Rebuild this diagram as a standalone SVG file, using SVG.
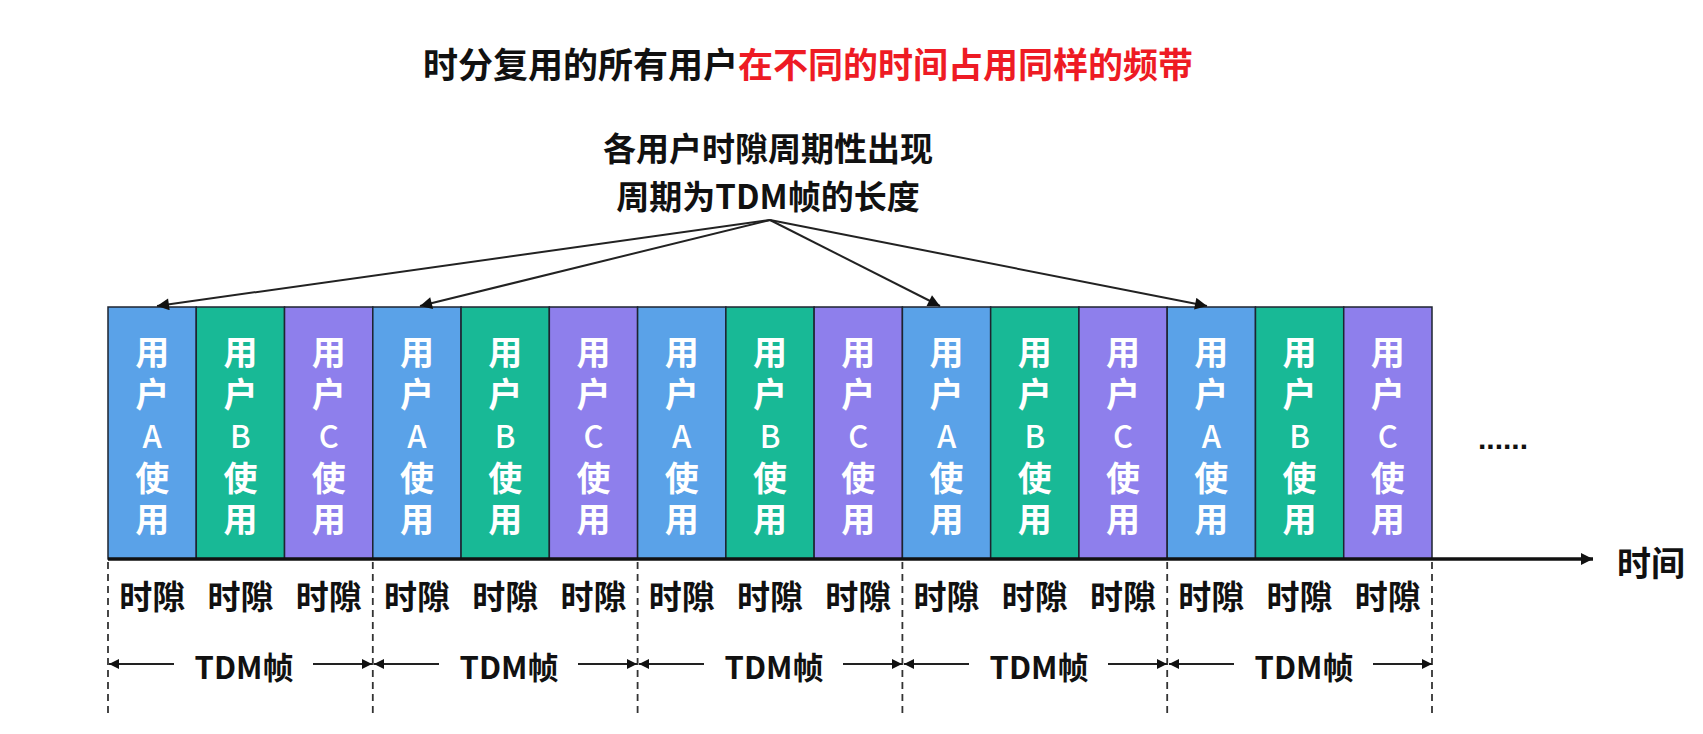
<svg xmlns="http://www.w3.org/2000/svg" width="1703" height="734" viewBox="0 0 1703 734">
<style>
.t{font-family:"Liberation Sans","Noto Sans CJK SC",sans-serif;font-weight:bold;fill:#111;}
.cjk{font-family:"Noto Sans CJK SC",sans-serif;font-weight:bold;}
.bt{font-family:"Noto Sans CJK SC",sans-serif;font-weight:bold;fill:#fff;font-size:34px;text-anchor:middle;dominant-baseline:central;}
.bl{font-family:"Noto Sans CJK SC",sans-serif;font-weight:500;fill:#fff;font-size:31px;text-anchor:middle;dominant-baseline:central;}
.slot{font-family:"Noto Sans CJK SC",sans-serif;font-weight:bold;fill:#111;font-size:33px;text-anchor:middle;dominant-baseline:central;}
.tdm{font-family:"Noto Sans CJK SC",sans-serif;font-weight:bold;fill:#111;font-size:31px;text-anchor:middle;dominant-baseline:central;}
.A{fill:#5AA2E8;stroke:#1e2430;stroke-width:1.5;}
.B{fill:#18B996;stroke:#1e2430;stroke-width:1.5;}
.C{fill:#8E7FEC;stroke:#1e2430;stroke-width:1.5;}
.ln{stroke:#222;stroke-width:2;fill:none;}
.dash{stroke:#333;stroke-width:1.8;stroke-dasharray:7 5;fill:none;}
</style>
<defs>
<marker id="ah" viewBox="0 0 10 10" refX="10" refY="5" markerWidth="14" markerHeight="12" markerUnits="userSpaceOnUse" orient="auto">
<path d="M0,0 L10,5 L0,10 Z" fill="#111"/>
</marker>
<marker id="ah2" viewBox="0 0 10 10" refX="10" refY="5" markerWidth="12" markerHeight="10" markerUnits="userSpaceOnUse" orient="auto">
<path d="M0,0 L10,5 L0,10 Z" fill="#111"/>
</marker>
<marker id="ah3" viewBox="0 0 10 10" refX="10" refY="5" markerWidth="16" markerHeight="12" markerUnits="userSpaceOnUse" orient="auto">
<path d="M0,0 L10,5 L0,10 Z" fill="#111"/>
</marker>
<g id="colA"><text class="bt" y="350">用</text><text class="bt" y="392">户</text><text class="bl" y="434">A</text><text class="bt" y="476">使</text><text class="bt" y="517">用</text></g>
<g id="colB"><text class="bt" y="350">用</text><text class="bt" y="392">户</text><text class="bl" y="434">B</text><text class="bt" y="476">使</text><text class="bt" y="517">用</text></g>
<g id="colC"><text class="bt" y="350">用</text><text class="bt" y="392">户</text><text class="bl" y="434">C</text><text class="bt" y="476">使</text><text class="bt" y="517">用</text></g>
</defs>
<rect width="1703" height="734" fill="#fff"/>

<g id="title">
<text x="808" y="62" font-size="35" text-anchor="middle" dominant-baseline="central" class="cjk"><tspan fill="#111">时分复用的所有用户</tspan><tspan fill="#EE1B24">在不同的时间占用同样的频带</tspan></text>
</g>

<g id="note">
<text x="768" y="147" font-size="33" text-anchor="middle" dominant-baseline="central" class="cjk" fill="#111">各用户时隙周期性出现</text>
<text x="768" y="195" font-size="33" text-anchor="middle" dominant-baseline="central" class="cjk" fill="#111">周期为TDM帧的长度</text>
</g>

<g id="slot0"><rect class="A" x="108" y="307" width="88.27" height="252"/><use href="#colA" x="152.13"/></g>
<g id="slot1"><rect class="B" x="196.27" y="307" width="88.27" height="252"/><use href="#colB" x="240.4"/></g>
<g id="slot2"><rect class="C" x="284.53" y="307" width="88.27" height="252"/><use href="#colC" x="328.67"/></g>
<g id="slot3"><rect class="A" x="372.8" y="307" width="88.27" height="252"/><use href="#colA" x="416.93"/></g>
<g id="slot4"><rect class="B" x="461.07" y="307" width="88.27" height="252"/><use href="#colB" x="505.2"/></g>
<g id="slot5"><rect class="C" x="549.33" y="307" width="88.27" height="252"/><use href="#colC" x="593.47"/></g>
<g id="slot6"><rect class="A" x="637.6" y="307" width="88.27" height="252"/><use href="#colA" x="681.73"/></g>
<g id="slot7"><rect class="B" x="725.87" y="307" width="88.27" height="252"/><use href="#colB" x="770"/></g>
<g id="slot8"><rect class="C" x="814.13" y="307" width="88.27" height="252"/><use href="#colC" x="858.27"/></g>
<g id="slot9"><rect class="A" x="902.4" y="307" width="88.27" height="252"/><use href="#colA" x="946.53"/></g>
<g id="slot10"><rect class="B" x="990.67" y="307" width="88.27" height="252"/><use href="#colB" x="1034.8"/></g>
<g id="slot11"><rect class="C" x="1078.93" y="307" width="88.27" height="252"/><use href="#colC" x="1123.07"/></g>
<g id="slot12"><rect class="A" x="1167.2" y="307" width="88.27" height="252"/><use href="#colA" x="1211.33"/></g>
<g id="slot13"><rect class="B" x="1255.47" y="307" width="88.27" height="252"/><use href="#colB" x="1299.6"/></g>
<g id="slot14"><rect class="C" x="1343.73" y="307" width="88.27" height="252"/><use href="#colC" x="1387.87"/></g>

<g id="ellipsis"><text x="1503" y="438" font-size="30" text-anchor="middle" dominant-baseline="central" font-family="Liberation Sans, sans-serif" font-weight="bold" fill="#111">......</text></g>

<g id="slot-labels">
<text class="slot" x="152.13" y="595">时隙</text>
<text class="slot" x="240.4" y="595">时隙</text>
<text class="slot" x="328.67" y="595">时隙</text>
<text class="slot" x="416.93" y="595">时隙</text>
<text class="slot" x="505.2" y="595">时隙</text>
<text class="slot" x="593.47" y="595">时隙</text>
<text class="slot" x="681.73" y="595">时隙</text>
<text class="slot" x="770" y="595">时隙</text>
<text class="slot" x="858.27" y="595">时隙</text>
<text class="slot" x="946.53" y="595">时隙</text>
<text class="slot" x="1034.8" y="595">时隙</text>
<text class="slot" x="1123.07" y="595">时隙</text>
<text class="slot" x="1211.33" y="595">时隙</text>
<text class="slot" x="1299.6" y="595">时隙</text>
<text class="slot" x="1387.87" y="595">时隙</text>
</g>

<g id="frame-labels">
<text class="tdm" x="244" y="665">TDM帧</text>
<text class="tdm" x="509" y="665">TDM帧</text>
<text class="tdm" x="774" y="665">TDM帧</text>
<text class="tdm" x="1039" y="665">TDM帧</text>
<text class="tdm" x="1304" y="665">TDM帧</text>
</g>

<g id="axis-label"><text x="1651" y="561" font-size="34" text-anchor="middle" dominant-baseline="central" class="cjk" fill="#111">时间</text></g>

<g id="connectors">
<line class="ln" x1="770" y1="220" x2="157" y2="306" marker-end="url(#ah)"/>
<line class="ln" x1="770" y1="220" x2="420" y2="306" marker-end="url(#ah)"/>
<line class="ln" x1="770" y1="220" x2="940" y2="306" marker-end="url(#ah)"/>
<line class="ln" x1="770" y1="220" x2="1207" y2="306" marker-end="url(#ah)"/>
<line x1="108" y1="559" x2="1593" y2="559" stroke="#111" stroke-width="3.5" marker-end="url(#ah3)"/>
<line class="dash" x1="108" y1="562" x2="108" y2="718"/>
<line class="dash" x1="372.8" y1="562" x2="372.8" y2="718"/>
<line class="dash" x1="637.6" y1="562" x2="637.6" y2="718"/>
<line class="dash" x1="902.4" y1="562" x2="902.4" y2="718"/>
<line class="dash" x1="1167.2" y1="562" x2="1167.2" y2="718"/>
<line class="dash" x1="1432" y1="562" x2="1432" y2="718"/>
<line class="ln" stroke-width="1.8" x1="174" y1="664" x2="109" y2="664" marker-end="url(#ah2)"/>
<line class="ln" stroke-width="1.8" x1="313" y1="664" x2="372" y2="664" marker-end="url(#ah2)"/>
<line class="ln" stroke-width="1.8" x1="439" y1="664" x2="374" y2="664" marker-end="url(#ah2)"/>
<line class="ln" stroke-width="1.8" x1="578" y1="664" x2="637" y2="664" marker-end="url(#ah2)"/>
<line class="ln" stroke-width="1.8" x1="704" y1="664" x2="639" y2="664" marker-end="url(#ah2)"/>
<line class="ln" stroke-width="1.8" x1="843" y1="664" x2="902" y2="664" marker-end="url(#ah2)"/>
<line class="ln" stroke-width="1.8" x1="969" y1="664" x2="904" y2="664" marker-end="url(#ah2)"/>
<line class="ln" stroke-width="1.8" x1="1108" y1="664" x2="1167" y2="664" marker-end="url(#ah2)"/>
<line class="ln" stroke-width="1.8" x1="1234" y1="664" x2="1169" y2="664" marker-end="url(#ah2)"/>
<line class="ln" stroke-width="1.8" x1="1373" y1="664" x2="1432" y2="664" marker-end="url(#ah2)"/>
</g>
</svg>
